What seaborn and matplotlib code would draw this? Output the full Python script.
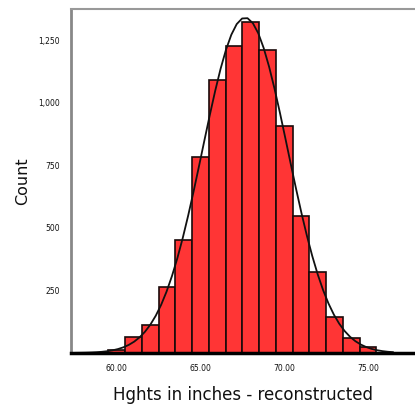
import numpy as np
import pandas as pd
import matplotlib
matplotlib.use("Agg")
import matplotlib.pyplot as plt
import seaborn as sns

# bin centres (inches) and counts
heights = [60, 61, 62, 63, 64, 65, 66, 67, 68, 69, 70, 71, 72, 73, 74, 75]
counts = [12, 64, 112, 264, 452, 784, 1092, 1228, 1324, 1212, 908, 548, 324, 144, 60, 24]
x_ticks = [60, 65, 70, 75]
x_labels = ["60.00", "65.00", "70.00", "75.00"]
y_ticks = [250, 500, 750, 1000, 1250]
y_labels = ["250", "500", "750", "1,000", "1,250"]

data = pd.DataFrame({"height": heights, "count": counts})

sns.set_style("white")
fig = plt.figure(figsize=(4.15, 4.07), dpi=100)
ax = fig.add_axes([0.171, 0.1327, 0.829, 0.8453])

sns.histplot(data=data, x="height", weights="count", binwidth=1,
             binrange=(min(heights) - 0.5, max(heights) + 0.5),
             color="#ff3535", alpha=1, edgecolor="#1a0a0a", linewidth=1.2, ax=ax)

# normal curve from the same counts
n = data["count"].sum()
mu = (data["height"] * data["count"]).sum() / n
sd = np.sqrt((data["count"] * (data["height"] - mu) ** 2).sum() / n)
xs = np.linspace(57.5, 76.5, 60)
curve = pd.DataFrame({"x": xs, "y": n * np.exp(-0.5 * ((xs - mu) / sd) ** 2) / (sd * np.sqrt(2 * np.pi))})
sns.lineplot(data=curve, x="x", y="y", color="#111111", linewidth=1.3, ax=ax)

ax.set_xlim(57.27, 77.8)
ax.set_ylim(0, 1376)
ax.set_xticks(x_ticks)
ax.set_xticklabels(x_labels, fontsize=5.5, color="#111111")
ax.set_yticks(y_ticks)
ax.set_yticklabels(y_labels, fontsize=5.5, color="#111111")
ax.tick_params(axis="both", direction="out", length=3, width=1, color="#333333", pad=5)
ax.set_xlabel("Hghts in inches - reconstructed", fontsize=12, labelpad=9, color="#111111")
ax.set_ylabel("Count", fontsize=11.5, labelpad=6, color="#111111")

ax.spines["right"].set_visible(False)
ax.spines["left"].set_color("#888888")
ax.spines["left"].set_linewidth(2)
ax.spines["top"].set_color("#999999")
ax.spines["top"].set_linewidth(1.5)
ax.spines["bottom"].set_color("#000000")
ax.spines["bottom"].set_linewidth(2.5)

fig.savefig("out.png", dpi=100)
